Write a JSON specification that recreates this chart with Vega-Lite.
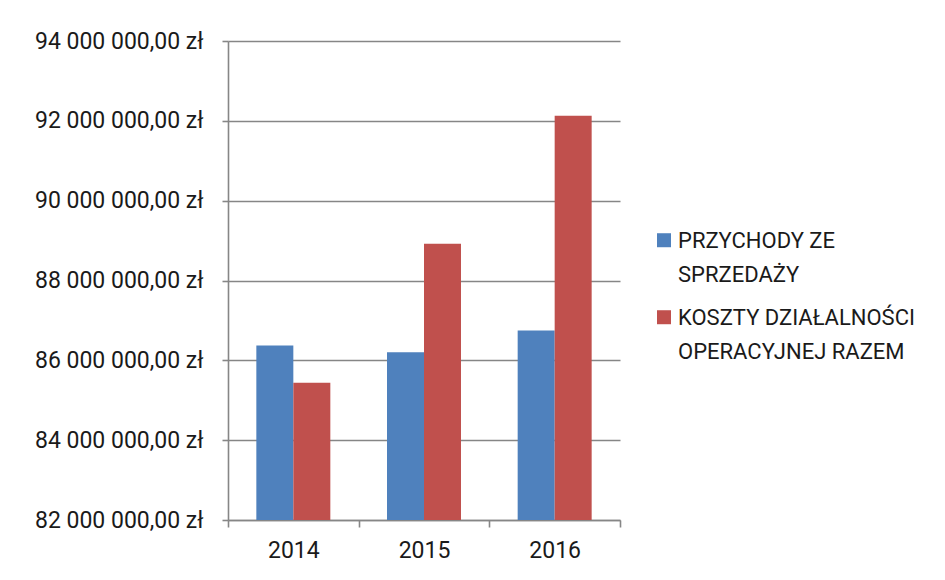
{
  "$schema": "https://vega.github.io/schema/vega-lite/v6.json",
  "width": 392,
  "height": 479,
  "autosize": {"type": "none"},
  "padding": {"left": 228, "top": 41, "right": 325, "bottom": 60},
  "background": "white",
  "config": {
    "locale": {"number": {"decimal": ",", "thousands": " ", "grouping": [3], "currency": ["", " zł"]}},
    "view": {"stroke": null},
    "font": "Roboto",
    "style": {"guide-label": {"lineHeight": 33.5}},
    "axis": {
      "labelFont": "Roboto",
      "labelFontSize": 23,
      "labelColor": "#1a1a1a",
      "domainColor": "#868686",
      "domainWidth": 1.6,
      "tickColor": "#868686",
      "tickWidth": 1.6,
      "gridColor": "#868686",
      "gridWidth": 1.6,
      "gridOpacity": 1,
      "titleFontSize": 0
    }
  },
  "data": {
    "values": [
      {"year": "2014", "series": "PRZYCHODY ZE SPRZEDAŻY", "value": 86370000},
      {"year": "2014", "series": "KOSZTY DZIAŁALNOŚCI OPERACYJNEJ RAZEM", "value": 85440000},
      {"year": "2015", "series": "PRZYCHODY ZE SPRZEDAŻY", "value": 86200000},
      {"year": "2015", "series": "KOSZTY DZIAŁALNOŚCI OPERACYJNEJ RAZEM", "value": 88920000},
      {"year": "2016", "series": "PRZYCHODY ZE SPRZEDAŻY", "value": 86750000},
      {"year": "2016", "series": "KOSZTY DZIAŁALNOŚCI OPERACYJNEJ RAZEM", "value": 92130000}
    ]
  },
  "mark": {"type": "bar"},
  "encoding": {
    "x": {
      "field": "year",
      "type": "nominal",
      "scale": {"paddingInner": 0, "paddingOuter": 0},
      "axis": {
        "title": null,
        "labelAngle": 0,
        "tickBand": "extent",
        "tickSize": 7,
        "labelPadding": 12,
        "grid": false
      }
    },
    "xOffset": {
      "field": "series",
      "type": "nominal",
      "sort": ["PRZYCHODY ZE SPRZEDAŻY", "KOSZTY DZIAŁALNOŚCI OPERACYJNEJ RAZEM"],
      "scale": {"paddingInner": 0, "paddingOuter": 0.766}
    },
    "y": {
      "field": "value",
      "type": "quantitative",
      "scale": {"domain": [82000000, 94000000], "zero": false, "nice": false},
      "axis": {
        "title": null,
        "values": [82000000, 84000000, 86000000, 88000000, 90000000, 92000000, 94000000],
        "format": "$,.2f",
        "tickSize": 6,
        "labelPadding": 19,
        "grid": true
      }
    },
    "y2": {"datum": 82000000},
    "color": {
      "field": "series",
      "type": "nominal",
      "sort": ["PRZYCHODY ZE SPRZEDAŻY", "KOSZTY DZIAŁALNOŚCI OPERACYJNEJ RAZEM"],
      "scale": {"range": ["#4F81BD", "#C0504D"]},
      "legend": {
        "title": null,
        "orient": "none",
        "legendX": 425,
        "legendY": 196,
        "padding": 0,
        "symbolType": "M-1,-2.11H1V-0.11H-1Z",
        "symbolSize": 196,
        "symbolStrokeWidth": 0,
        "labelFont": "Roboto",
        "labelFontSize": 22,
        "labelColor": "#1a1a1a",
        "labelLimit": 0,
        "labelOffset": 3,
        "labelBaseline": "alphabetic",
        "rowPadding": 21,
        "labelExpr": "datum.label == 'PRZYCHODY ZE SPRZEDAŻY' ? ['PRZYCHODY ZE', 'SPRZEDAŻY'] : ['KOSZTY DZIAŁALNOŚCI', 'OPERACYJNEJ RAZEM']"
      }
    }
  }
}
